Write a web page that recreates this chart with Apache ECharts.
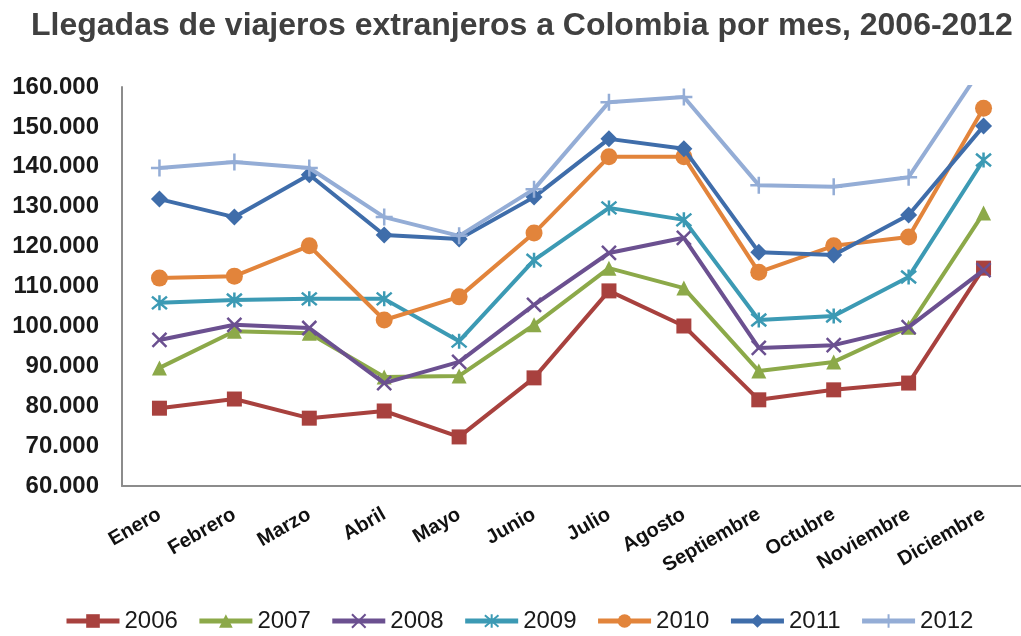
<!DOCTYPE html>
<html>
<head>
<meta charset="utf-8">
<script src="https://cdn.jsdelivr.net/npm/echarts@6/dist/echarts.min.js"></script>
<style>
html,body{margin:0;padding:0;background:#fff;}
#chart{width:1021px;height:636px;}
</style>
</head>
<body>
<div id="chart"></div>
<script>
const titleText = 'Llegadas de viajeros extranjeros a Colombia por mes, 2006-2012';
const months = ['Enero','Febrero','Marzo','Abril','Mayo','Junio','Julio','Agosto','Septiembre','Octubre','Noviembre','Diciembre'];
const years = ['2006','2007','2008','2009','2010','2011','2012'];

const v2006 = [79500, 81800, 77000, 78800, 72300, 87100, 108900, 100100, 81600, 84100, 85800, 114600];
const v2007 = [89600, 98800, 98300, 87300, 87600, 100400, 114600, 109600, 88800, 91100, 99800, 128400];
const v2008 = [96600, 100400, 99600, 85800, 91100, 105400, 118400, 122200, 94600, 95300, 99800, 114100];
const v2009 = [105900, 106600, 106900, 106900, 96300, 116600, 129700, 126700, 101600, 102600, 112400, 141700];
const v2010 = [112100, 112600, 120200, 101600, 107400, 123400, 142500, 142500, 113600, 120200, 122400, 154700];
const v2011 = [131900, 127400, 138000, 122900, 121900, 132400, 147000, 144500, 118600, 117900, 127900, 150200];
const v2012 = [139700, 141200, 139700, 127400, 122700, 134400, 156200, 157500, 135400, 135000, 137400, 165500];

const seriesValues = [v2006, v2007, v2008, v2009, v2010, v2011, v2012];
const colors = ['#A8413E', '#8CA949', '#6B5090', '#3C9AB4', '#E2843B', '#3F6DAA', '#94ADD6'];

const yMin = 60000, yMax = 160000, yStep = 10000;

const X_PATH = 'path://M0,0L10,10M10,0L0,10';
const AST_PATH = 'path://M0,0L10,10M10,0L0,10M5,-1L5,11';
const PLUS_PATH = 'path://M0,5L10,5M5,0L5,10';

const markers = [
  {symbol:'rect', size:15, stroke:false},
  {symbol:'triangle', size:15, stroke:false},
  {symbol:X_PATH, size:14, stroke:true},
  {symbol:AST_PATH, size:15, stroke:true},
  {symbol:'circle', size:17, stroke:false},
  {symbol:'diamond', size:17, stroke:false},
  {symbol:PLUS_PATH, size:17, stroke:true}
];

function fmt(v){
  return String(v).replace(/\B(?=(\d{3})+(?!\d))/g, '.');
}

const series = years.map((y, i) => {
  const m = markers[i];
  return {
    name: y,
    type: 'line',
    data: seriesValues[i],
    symbol: m.symbol,
    symbolSize: m.size,
    showAllSymbol: true,
    clip: true,
    lineStyle: {color: colors[i], width: 4},
    itemStyle: m.stroke
      ? {color: colors[i], borderColor: colors[i], borderWidth: 2.5}
      : {color: colors[i]},
    emphasis: {disabled: true},
    z: 2 + i
  };
});

const chart = echarts.init(document.getElementById('chart'), null, {renderer:'canvas'});
chart.setOption({
  backgroundColor: '#ffffff',
  animation: false,
  title: {
    text: titleText,
    left: 26,
    top: 5,
    textStyle: {fontFamily: 'Liberation Sans, Arial, sans-serif', fontWeight: 'bold', fontSize: 32, color: '#404040'}
  },
  legend: {
    data: years,
    left: 59,
    top: 604,
    itemWidth: 53,
    itemHeight: 17,
    itemGap: 19,
    lineStyle: {width: 5},
    textStyle: {fontFamily: 'Liberation Sans, Arial, sans-serif', fontSize: 24, color: '#1a1a1a'}
  },
  grid: {left: 122, top: 87, width: 903, height: 399, containLabel: false},
  xAxis: {
    type: 'category',
    data: months,
    boundaryGap: true,
    axisLine: {lineStyle: {color: '#8c8c8c', width: 2}},
    axisTick: {show: false},
    axisLabel: {
      rotate: 30,
      margin: 27,
      interval: 0,
      fontFamily: 'Liberation Sans, Arial, sans-serif',
      fontWeight: 'bold',
      fontSize: 20,
      color: '#111'
    },
    splitLine: {show: false}
  },
  yAxis: {
    type: 'value',
    min: yMin,
    max: yMax,
    interval: yStep,
    axisLine: {show: true, lineStyle: {color: '#8c8c8c', width: 2}},
    axisTick: {show: false},
    splitLine: {show: false},
    axisLabel: {
      margin: 23,
      formatter: fmt,
      fontFamily: 'Liberation Sans, Arial, sans-serif',
      fontWeight: 'bold',
      fontSize: 24,
      color: '#1a1a1a'
    }
  },
  series: series
});
</script>
</body>
</html>
